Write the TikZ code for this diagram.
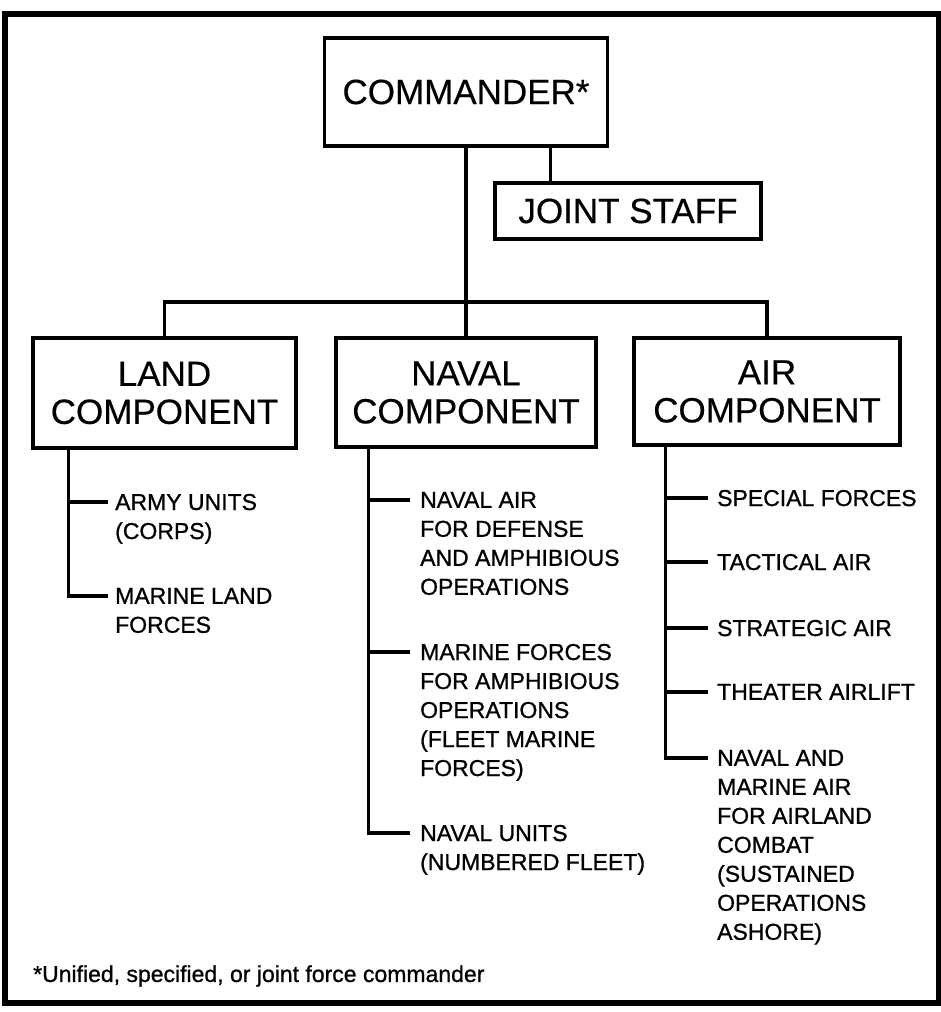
\documentclass[tikz,border=0pt]{standalone}
\usepackage{fontspec}
\setmainfont{Liberation Sans}
\newfontfamily\itemfont[FakeBold=0.9]{Liberation Sans}
\newfontfamily\boxfont[FakeBold=0.4]{Liberation Sans}

\begin{document}
\begin{tikzpicture}[x=1pt, y=-1pt,
        box/.style={draw, line width=3.4pt, inner sep=0pt, align=center, font=\boxfont\fontsize{35}{38}\selectfont},
        item/.style={anchor=north west, inner sep=0pt, align=left, font=\itemfont\fontsize{23}{29}\selectfont},
        link/.style={line width=3.2pt}]
        \useasboundingbox (0,0) rectangle (941,1012);
        \draw[line width=5.5pt] (5,14) rectangle (939,1003);
        \node[box, minimum width=283pt, minimum height=108pt] (cmd) at (466,92) {COMMANDER*};
        \node[box, minimum width=266pt, minimum height=56pt] (staff) at (628,211) {JOINT STAFF};
        \node[box, minimum width=263pt, minimum height=110pt] (land) at (164.5,393) {LAND\\COMPONENT};
        \node[box, minimum width=260pt, minimum height=109pt] (naval) at (466,392.5) {NAVAL\\COMPONENT};
        \node[box, minimum width=266pt, minimum height=107pt] (air) at (767,391.5) {AIR\\COMPONENT};
        \coordinate (bus) at (466,302);
        \node[item] (army) at (115,493.75) {ARMY UNITS\\(CORPS)};
        \node[item] (mland) at (115,587.75) {MARINE LAND\\FORCES};
        \node[item] (navair) at (420,491.75) {NAVAL AIR\\FOR DEFENSE\\AND AMPHIBIOUS\\OPERATIONS};
        \node[item] (marfor) at (420,643.75) {MARINE FORCES\\FOR AMPHIBIOUS\\OPERATIONS\\(FLEET MARINE\\FORCES)};
        \node[item] (navunit) at (420,824.75) {NAVAL UNITS\\(NUMBERED FLEET)};
        \node[item] (spec) at (717,489.75) {SPECIAL FORCES};
        \node[item] (tac) at (717,553.75) {TACTICAL AIR};
        \node[item] (strat) at (717,619.75) {STRATEGIC AIR};
        \node[item] (airlift) at (717,683.75) {THEATER AIRLIFT};
        \node[item] (marair) at (717,749.75) {NAVAL AND\\MARINE AIR\\FOR AIRLAND\\COMBAT\\(SUSTAINED\\OPERATIONS\\ASHORE)};
        \node[anchor=west, inner sep=0pt, font=\itemfont\fontsize{23}{29}\selectfont] (note) at (33,976) {*Unified, specified, or joint force commander};
        \draw[link] ([xshift=57pt]staff.north west) -- ([xshift=57pt]staff.north west |- cmd.south);
        \draw[link] (cmd.south) -- (naval.north);
        \draw[link] (land.north) |- (bus) -| (air.north);
        \draw[link] ([xshift=-7pt, yshift=-8.25pt]army.north west) -| ([xshift=37pt]land.south west);
        \draw[link] ([xshift=-7pt, yshift=-8.25pt]mland.north west) -| ([xshift=37pt]land.south west);
        \draw[link] ([xshift=-10pt, yshift=-8.25pt]navair.north west) -| ([xshift=34pt]naval.south west);
        \draw[link] ([xshift=-10pt, yshift=-8.25pt]marfor.north west) -| ([xshift=34pt]naval.south west);
        \draw[link] ([xshift=-10pt, yshift=-8.25pt]navunit.north west) -| ([xshift=34pt]naval.south west);
        \draw[link] ([xshift=-9pt, yshift=-8.25pt]spec.north west) -| ([xshift=33pt]air.south west);
        \draw[link] ([xshift=-9pt, yshift=-8.25pt]tac.north west) -| ([xshift=33pt]air.south west);
        \draw[link] ([xshift=-9pt, yshift=-8.25pt]strat.north west) -| ([xshift=33pt]air.south west);
        \draw[link] ([xshift=-9pt, yshift=-8.25pt]airlift.north west) -| ([xshift=33pt]air.south west);
        \draw[link] ([xshift=-9pt, yshift=-8.25pt]marair.north west) -| ([xshift=33pt]air.south west);
    \end{tikzpicture}
\end{document}
